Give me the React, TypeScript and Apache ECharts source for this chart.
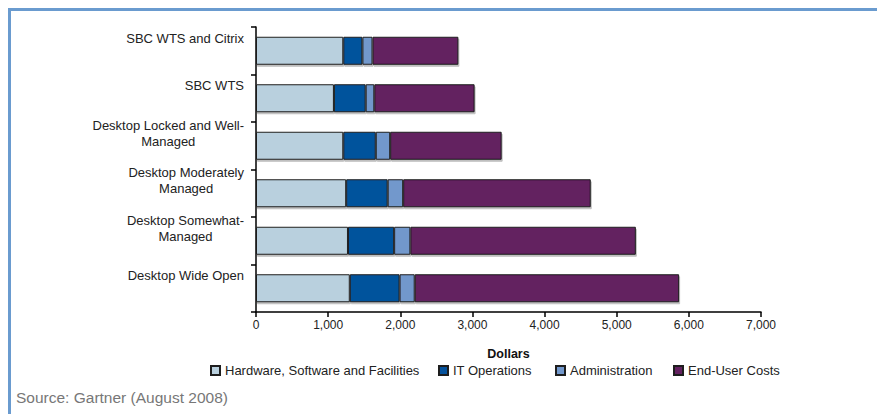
import React, { useEffect, useRef } from "react";
import * as echarts from "echarts";

const categories = [
  "SBC WTS and Citrix",
  "SBC WTS",
  "Desktop Locked and Well-\nManaged",
  "Desktop Moderately\nManaged",
  "Desktop Somewhat-\nManaged",
  "Desktop Wide Open",
];
const seriesNames = [
  "Hardware, Software and Facilities",
  "IT Operations",
  "Administration",
  "End-User Costs",
];
const hardware = [1210, 1080, 1210, 1250, 1275, 1300];
const itOps = [265, 440, 450, 575, 640, 690];
const admin = [140, 120, 200, 215, 225, 210];
const endUser = [1190, 1390, 1545, 2600, 3125, 3665];
const xTicks = { min: 0, max: 7000, interval: 1000 };
const colors = ["#b9d0de", "#05529c", "#7298cc", "#632160"];
const legendLefts = [210, 438, 555, 673];

export default function App() {
  const ref = useRef<HTMLDivElement>(null);
  useEffect(() => {
    if (!ref.current) return;
    const chart = echarts.init(ref.current, null, { renderer: "svg" });
    const values = [hardware, itOps, admin, endUser];
    const font = "'Liberation Sans', Arial, sans-serif";
    chart.setOption({
      animation: false,
      backgroundColor: "#ffffff",
      textStyle: { fontFamily: font },
      grid: { left: 256, right: 116, top: 27, bottom: 102, containLabel: false },
      xAxis: {
        type: "value",
        min: xTicks.min,
        max: xTicks.max,
        interval: xTicks.interval,
        splitLine: { show: false },
        axisLine: { show: true, lineStyle: { color: "#000", width: 1.5 } },
        axisTick: { show: true, length: 5, lineStyle: { color: "#000", width: 1.5 } },
        axisLabel: {
          color: "#222",
          fontSize: 12,
          fontFamily: font,
          margin: 7,
          formatter: (v: number) => v.toLocaleString("en-US"),
        },
        name: "Dollars",
        nameLocation: "middle",
        nameGap: 35,
        nameTextStyle: { fontWeight: "bold", fontSize: 12.5, color: "#111", fontFamily: font },
      },
      yAxis: {
        type: "category",
        inverse: true,
        data: categories,
        axisLine: { show: true, lineStyle: { color: "#000", width: 1.5 } },
        axisTick: { show: true, length: 5, lineStyle: { color: "#000", width: 1.5 } },
        axisLabel: {
          color: "#222",
          fontSize: 13,
          fontFamily: font,
          margin: 12,
          padding: [0, 0, 25, 0],
          formatter: (v: string) =>
            v
              .split("\n")
              .map((l) => "{c|" + l + "}")
              .join("\n"),
          rich: {
            c: { align: "center", fontSize: 13, color: "#222", fontFamily: font, lineHeight: 16 },
          },
        },
      },
      legend: seriesNames.map((n, i) => ({
        data: [n],
        left: legendLefts[i],
        top: 364,
        itemWidth: 9,
        itemHeight: 9,
        icon: "rect",
        padding: 0,
        selectedMode: false,
        textStyle: { color: "#222", fontSize: 13, fontFamily: font },
      })),
      series: seriesNames.map((n, i) => ({
        name: n,
        type: "bar",
        stack: "total",
        barWidth: 28,
        data: values[i],
        itemStyle: {
          color: colors[i],
          borderColor: "#1e1e1e",
          borderWidth: 1,
          shadowColor: "rgba(0,0,0,0.25)",
          shadowOffsetX: 1,
          shadowOffsetY: 2,
          shadowBlur: 0,
        },
      })),
      graphic: [
        { type: "rect", shape: { x: 8, y: 8, width: 869, height: 3 }, style: { fill: "#6a9bcf" } },
        { type: "rect", shape: { x: 8, y: 8, width: 3, height: 406 }, style: { fill: "#6a9bcf" } },
        {
          type: "text",
          left: 16,
          top: 389,
          style: {
            text: "Source: Gartner (August 2008)",
            fontSize: 15.5,
            fill: "#777",
            fontFamily: font,
          },
        },
      ],
    });
    return () => chart.dispose();
  }, []);
  return (
    <div
      ref={ref}
      style={{ position: "absolute", left: 0, top: 0, width: 877, height: 414 }}
    />
  );
}
